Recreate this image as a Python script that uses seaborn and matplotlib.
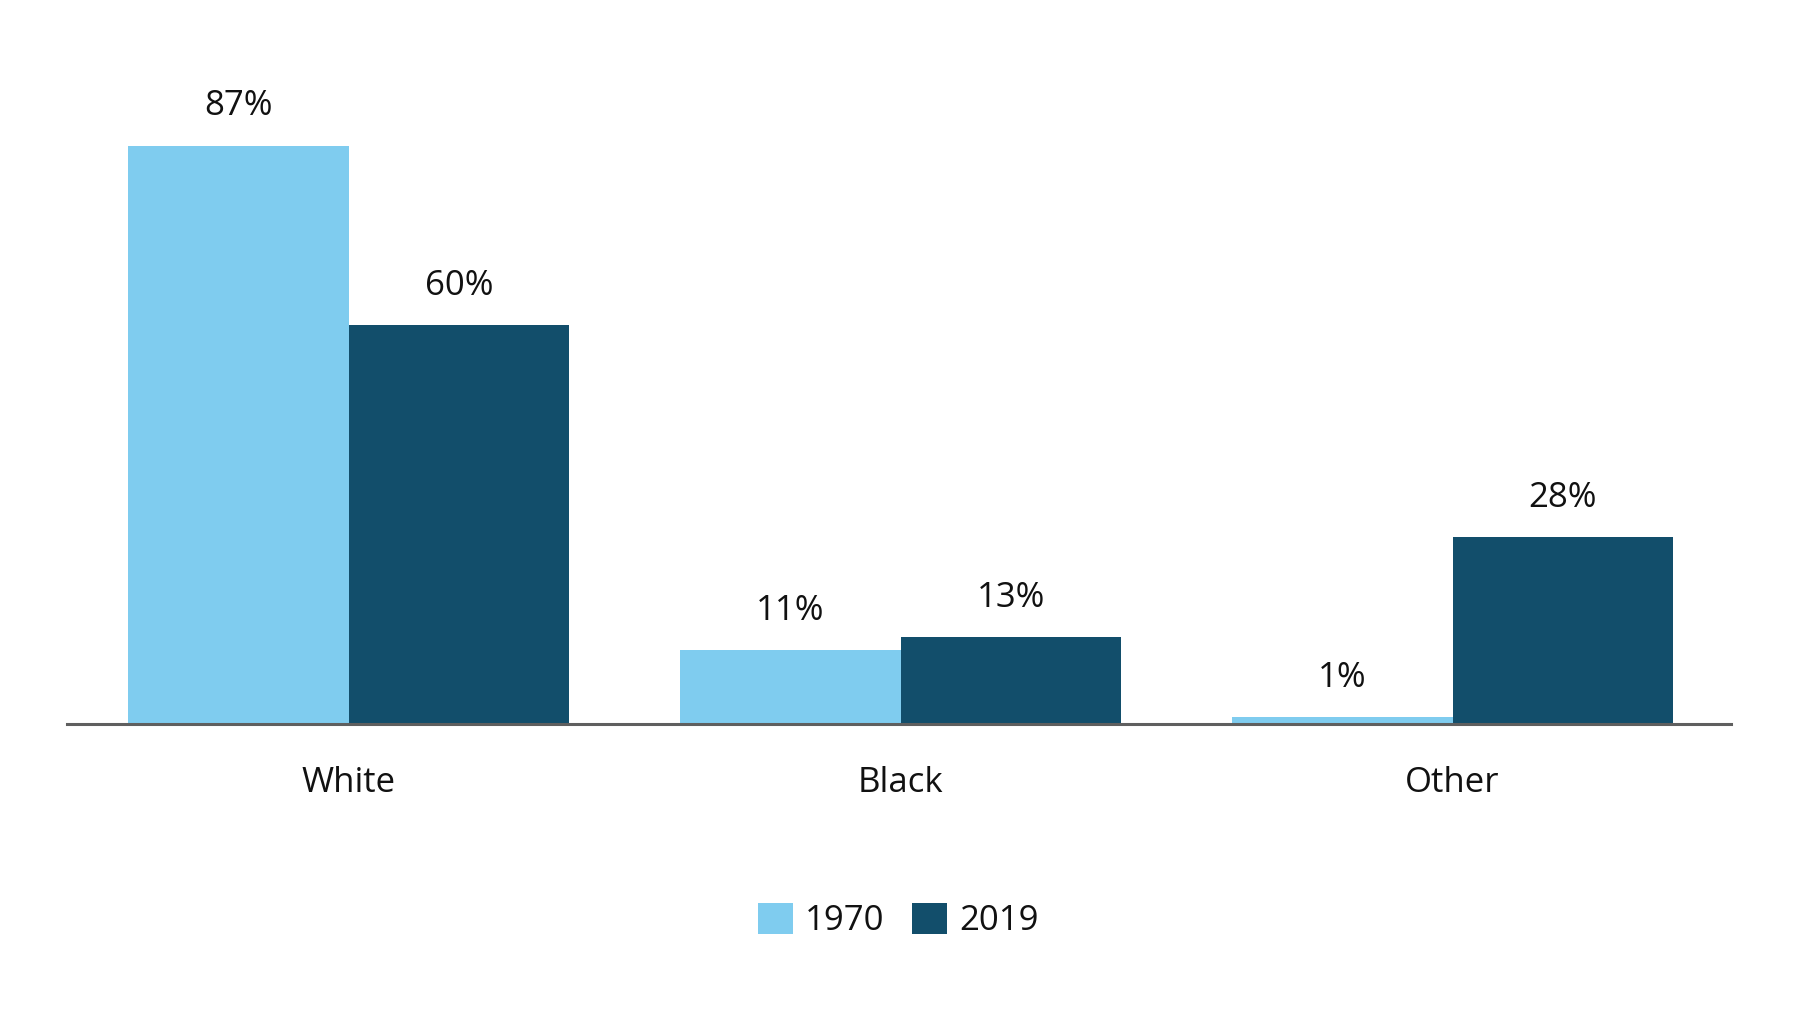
import matplotlib
matplotlib.use("Agg")
import matplotlib.pyplot as plt
import seaborn as sns
import pandas as pd
from matplotlib.patches import Patch

categories = ["White", "Black", "Other"]
years = ["1970", "2019"]
values_1970 = [87, 11, 1]
values_2019 = [60, 13, 28]
colors = ["#7FCCEF", "#124E6B"]

df = pd.DataFrame({
    "group": categories * 2,
    "year": [years[0]] * 3 + [years[1]] * 3,
    "value": values_1970 + values_2019,
})

sns.set_theme(style="white")
plt.rcParams["font.family"] = ["Open Sans", "DejaVu Sans"]

fig = plt.figure(figsize=(18, 10.19), dpi=100)
left = 67 / 1800
width = (1740 - 67) / 1800 * 0.9948
bottom = 1 - 723.5 / 1019
height = 667 / 1019 * 0.996
ax = fig.add_axes([left, bottom, width, height])

sns.barplot(data=df, x="group", y="value", hue="year", palette=colors,
            width=0.8, ax=ax, legend=False, saturation=1, linewidth=0)

for c in ax.containers:
    ax.bar_label(c, labels=[f"{v:.0f}%" for v in c.datavalues],
                 padding=16, fontsize=25, color="#111111")

ax.set_ylim(0, 100)
ax.set_xlim(-0.51, 2.505)
ax.set_xlabel("")
ax.set_ylabel("")
ax.set_yticks([])
ax.tick_params(axis="x", length=0, pad=30.5, labelsize=25, labelcolor="#111111")
for s in ["top", "right", "left"]:
    ax.spines[s].set_visible(False)
ax.spines["bottom"].set_color("#5f5f5f")
ax.spines["bottom"].set_linewidth(2.2)

handles = [Patch(facecolor=colors[i], edgecolor="none", label=years[i]) for i in range(2)]
fig.legend(handles=handles, loc="center", bbox_to_anchor=(0.499, 1 - 920.5 / 1019),
           ncol=2, frameon=False, fontsize=25, handlelength=1.0, handleheight=1.0,
           handletextpad=0.35, columnspacing=0.8, labelcolor="#111111")

fig.savefig("out.png", dpi=100, facecolor="white")
